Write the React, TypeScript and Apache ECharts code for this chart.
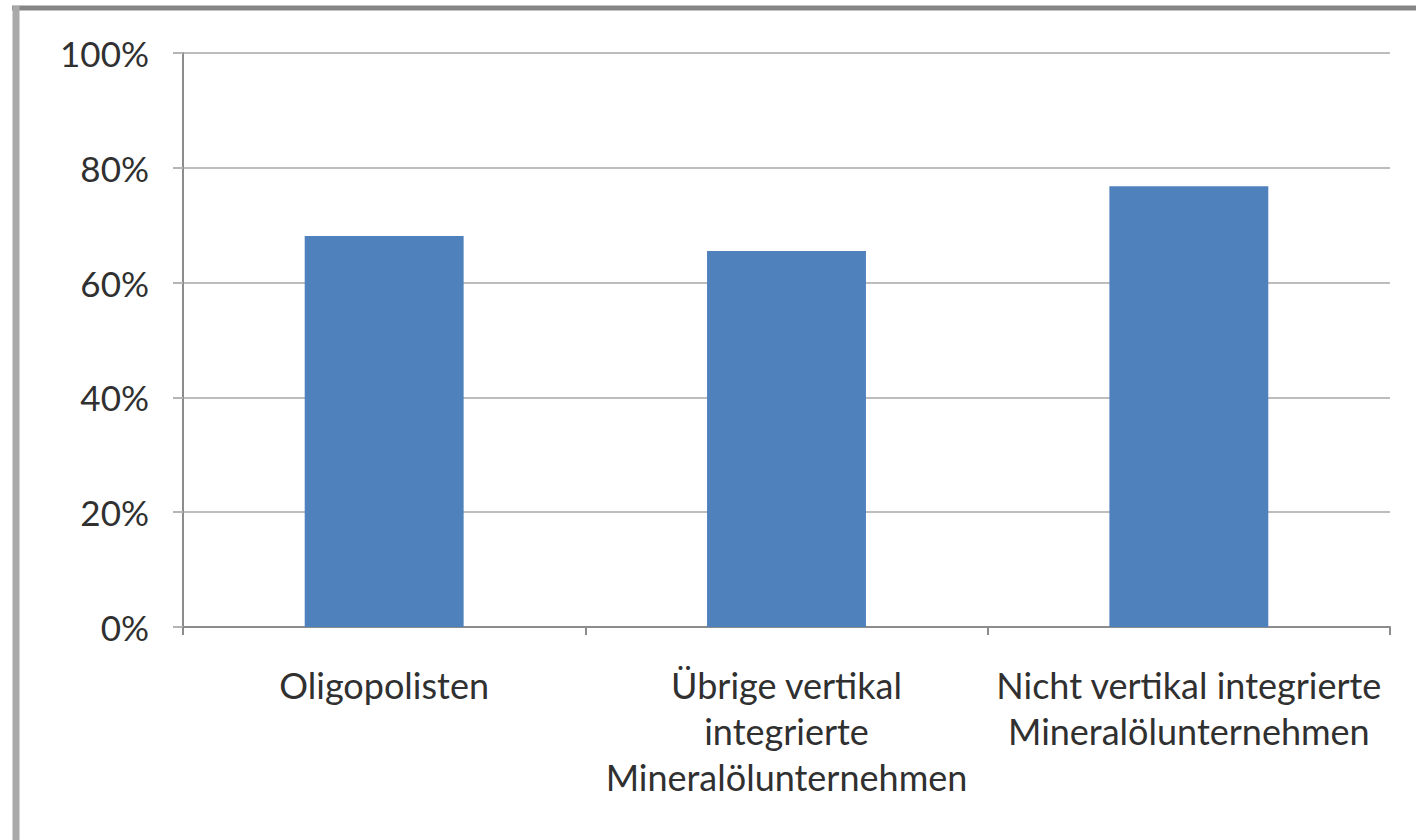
import React, { useEffect, useRef } from "react";
import * as echarts from "echarts";

// Anteil je Unternehmensgruppe
const categories: string[] = [
  "Oligopolisten",
  "Übrige vertikal\nintegrierte\nMineralölunternehmen",
  "Nicht vertikal integrierte\nMineralölunternehmen",
];
const shares: number[] = [68.1, 65.5, 76.8];
const yTicks: number[] = [0, 20, 40, 60, 80, 100];

const FONT = "Lato, 'Noto Sans', sans-serif";

export default function App() {
  const ref = useRef<HTMLDivElement>(null);

  useEffect(() => {
    if (!ref.current) return;
    const chart = echarts.init(ref.current, undefined, { renderer: "svg" });
    chart.setOption({
      animation: false,
      backgroundColor: "#ffffff",
      grid: { left: 183, right: 26, top: 53, bottom: 213, containLabel: false },
      xAxis: {
        type: "category",
        data: categories,
        axisLine: { show: true, lineStyle: { color: "#8c8c8c", width: 2 } },
        axisTick: { show: true, alignWithLabel: false, length: 8, lineStyle: { color: "#8c8c8c", width: 2 } },
        axisLabel: {
          interval: 0,
          margin: 35,
          color: "#303030",
          fontFamily: FONT,
          fontSize: 36,
          lineHeight: 46,
          verticalAlign: "top",
        },
        splitLine: { show: false },
      },
      yAxis: {
        type: "value",
        min: yTicks[0],
        max: yTicks[yTicks.length - 1],
        interval: 20,
        axisLine: { show: true, lineStyle: { color: "#8c8c8c", width: 2 } },
        axisTick: { show: true, length: 10, lineStyle: { color: "#b5b5b5", width: 2 } },
        axisLabel: {
          margin: 34,
          color: "#303030",
          fontFamily: FONT,
          fontSize: 35,
          padding: [0, 0, 6, 0],
          formatter: (v: number) => `${v}%`,
        },
        splitLine: { show: true, lineStyle: { color: "#bdbdbd", width: 2 } },
      },
      series: [
        {
          type: "bar",
          data: shares,
          barWidth: "39.5%",
          itemStyle: { color: "#4f81bd" },
        },
      ],
      graphic: [
        {
          type: "line",
          shape: { x1: 12, y1: 8, x2: 1416, y2: 8 },
          style: { stroke: "#858585", lineWidth: 5 },
        },
        {
          type: "line",
          shape: { x1: 16, y1: 6, x2: 16, y2: 840 },
          style: { stroke: "#a9a9a9", lineWidth: 7 },
        },
      ],
    });
    return () => chart.dispose();
  }, []);

  return (
    <div
      ref={ref}
      style={{ position: "absolute", left: 0, top: 0, width: 1416, height: 840 }}
    />
  );
}
